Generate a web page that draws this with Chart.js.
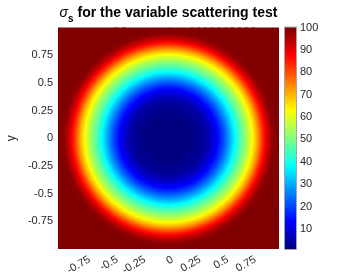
<!DOCTYPE html>
<html><head><meta charset="utf-8">
<script src="https://cdn.jsdelivr.net/npm/chart.js@4.4.1/dist/chart.umd.min.js"></script>
<style>html,body{margin:0;padding:0;background:#fff;}canvas{display:block;}</style>
</head><body>
<canvas id="c" width="356" height="280"></canvas>
<script>
// radial profile of sigma_s (value vs distance from centre)
const radiusSamples = [0, 0.05, 0.1, 0.15, 0.2, 0.25, 0.3, 0.35, 0.4, 0.45, 0.5, 0.55, 0.6, 0.65, 0.7, 0.75, 0.8, 0.85, 0.9, 0.95, 1.0];
const sigmaProfile  = [1, 1, 1, 1.1, 1.4, 2, 3, 5, 9, 14, 21, 29, 38, 46, 53, 61, 71, 83, 93, 99, 100];
const gridCells = 221;             // cells per side of the image
const xTicks = [-0.75, -0.5, -0.25, 0, 0.25, 0.5, 0.75];
const xTickLabels = ['-0.75', '-0.5', '-0.25', '0', '0.25', '0.5', '0.75'];
const yTicks = [-0.75, -0.5, -0.25, 0, 0.25, 0.5, 0.75];
const yTickLabels = ['-0.75', '-0.5', '-0.25', '0', '0.25', '0.5', '0.75'];
const cbTicks = [10, 20, 30, 40, 50, 60, 70, 80, 90, 100];
const cbTickLabels = ['10', '20', '30', '40', '50', '60', '70', '80', '90', '100'];
const cbRange = [1, 100];
const axisRange = [-1, 1];
const titleMain = ' for the variable scattering test';
const titleSymbol = 'σ';
const titleSub = 's';

const FONT = "'Liberation Sans', Arial, Helvetica, sans-serif";
const TXT = '#262626';

function sigmaAt(r) {
  const n = radiusSamples.length;
  if (r >= radiusSamples[n - 1]) return sigmaProfile[n - 1];
  for (let i = 1; i < n; i++) {
    if (r <= radiusSamples[i]) {
      const t = (r - radiusSamples[i - 1]) / (radiusSamples[i] - radiusSamples[i - 1]);
      return sigmaProfile[i - 1] + t * (sigmaProfile[i] - sigmaProfile[i - 1]);
    }
  }
  return sigmaProfile[n - 1];
}
function jet(v) {
  let t = (v - cbRange[0]) / (cbRange[1] - cbRange[0]);
  t = Math.max(0, Math.min(1, t));
  const c = x => Math.round(255 * Math.max(0, Math.min(1, x)));
  return 'rgb(' + c(1.5 - Math.abs(4 * t - 3)) + ',' + c(1.5 - Math.abs(4 * t - 2)) + ',' + c(1.5 - Math.abs(4 * t - 1)) + ')';
}

const heatmapPlugin = {
  id: 'heatmap',
  beforeDatasetsDraw(chart) {
    const ctx = chart.ctx, xs = chart.scales.x, ys = chart.scales.y, a = chart.chartArea;
    ctx.save();
    ctx.beginPath(); ctx.rect(a.left, a.top, a.right - a.left, a.bottom - a.top); ctx.clip();
    const step = (axisRange[1] - axisRange[0]) / gridCells;
    for (let i = 0; i < gridCells; i++) {
      const x0 = axisRange[0] + i * step, x1 = x0 + step, xc = x0 + step / 2;
      const p0 = Math.floor(xs.getPixelForValue(x0)), p1 = Math.ceil(xs.getPixelForValue(x1));
      for (let j = 0; j < gridCells; j++) {
        const y0 = axisRange[0] + j * step, y1 = y0 + step, yc = y0 + step / 2;
        const q0 = Math.floor(ys.getPixelForValue(y1)), q1 = Math.ceil(ys.getPixelForValue(y0));
        ctx.fillStyle = jet(sigmaAt(Math.sqrt(xc * xc + yc * yc)));
        ctx.fillRect(p0, q0, p1 - p0, q1 - q0);
      }
    }
    ctx.restore();
  }
};

const colorbarPlugin = {
  id: 'colorbar',
  afterDraw(chart) {
    const ctx = chart.ctx, cb = chart.scales.cb, a = chart.chartArea;
    const left = a.right + 6, w = 11;
    const top = cb.getPixelForValue(cbRange[1]), bottom = cb.getPixelForValue(cbRange[0]);
    const n = Math.round(bottom - top);
    ctx.save();
    for (let k = 0; k < n; k++) {
      const v0 = cbRange[0] + (cbRange[1] - cbRange[0]) * k / n;
      const v1 = cbRange[0] + (cbRange[1] - cbRange[0]) * (k + 1) / n;
      const yA = Math.floor(cb.getPixelForValue(v1)), yB = Math.ceil(cb.getPixelForValue(v0));
      ctx.fillStyle = jet((v0 + v1) / 2);
      ctx.fillRect(left, yA, w, yB - yA);
    }
    ctx.strokeStyle = '#a6a6a6';
    ctx.lineWidth = 1;
    ctx.strokeRect(left - 0.5, top - 0.5, w + 1, bottom - top + 1);
    ctx.restore();
  }
};

const titlePlugin = {
  id: 'texTitle',
  afterDraw(chart) {
    const ctx = chart.ctx, a = chart.chartArea;
    ctx.save();
    const fMain = 'bold 14px ' + FONT, fSym = 'italic 14px ' + FONT, fSub = 'bold 10px ' + FONT;
    ctx.font = fSym; const wSym = ctx.measureText(titleSymbol).width;
    ctx.font = fSub; const wSub = ctx.measureText(titleSub).width;
    ctx.font = fMain; const wMain = ctx.measureText(titleMain).width;
    const total = wSym + wSub + wMain;
    let x = (a.left + a.right) / 2 - total / 2;
    const base = 17;
    ctx.fillStyle = '#000';
    ctx.textBaseline = 'alphabetic'; ctx.textAlign = 'left';
    ctx.font = fSym; ctx.fillText(titleSymbol, x, base); x += wSym;
    ctx.font = fSub; ctx.fillText(titleSub, x, base + 5); x += wSub;
    ctx.font = fMain; ctx.fillText(titleMain, x, base);
    ctx.restore();
  }
};

const tickFont = { family: FONT, size: 11 };
new Chart(document.getElementById('c'), {
  type: 'scatter',
  data: { datasets: [{ data: [] }] },
  options: {
    responsive: false, animation: false, devicePixelRatio: 1,
    layout: { padding: { top: 27, left: 0, right: 0, bottom: 0 } },
    plugins: { legend: { display: false }, tooltip: { enabled: false }, title: { display: false } },
    scales: {
      x: {
        type: 'linear', position: 'bottom', min: axisRange[0], max: axisRange[1],
        grid: { display: false, drawTicks: false }, border: { display: false },
        afterBuildTicks: s => { s.ticks = xTicks.map(v => ({ value: v })); },
        ticks: { callback: (v) => xTickLabels[xTicks.indexOf(v)], autoSkip: false, minRotation: 30, maxRotation: 30, labelOffset: 4, font: tickFont, color: TXT, padding: 4 },
        afterFit: s => { s.height = 31; }
      },
      y: {
        type: 'linear', position: 'left', min: axisRange[0], max: axisRange[1],
        grid: { display: false, drawTicks: false }, border: { display: false },
        afterBuildTicks: s => { s.ticks = yTicks.map(v => ({ value: v })); },
        ticks: { callback: (v) => yTickLabels[yTicks.indexOf(v)], autoSkip: false, font: tickFont, color: TXT, padding: 5 },
        title: { display: true, text: 'y', font: { family: FONT, size: 12 }, color: TXT, padding: { top: 4, bottom: 0 } },
        afterFit: s => { s.width = 58; }
      },
      cb: {
        type: 'linear', position: 'right', min: cbRange[0], max: cbRange[1],
        grid: { display: false, drawTicks: false }, border: { display: false },
        afterBuildTicks: s => { s.ticks = cbTicks.map(v => ({ value: v })); },
        ticks: { callback: (v) => cbTickLabels[cbTicks.indexOf(v)], autoSkip: false, font: tickFont, color: TXT, padding: 21 },
        afterFit: s => { s.width = 77; }
      }
    }
  },
  plugins: [heatmapPlugin, colorbarPlugin, titlePlugin]
});
</script>
</body></html>
